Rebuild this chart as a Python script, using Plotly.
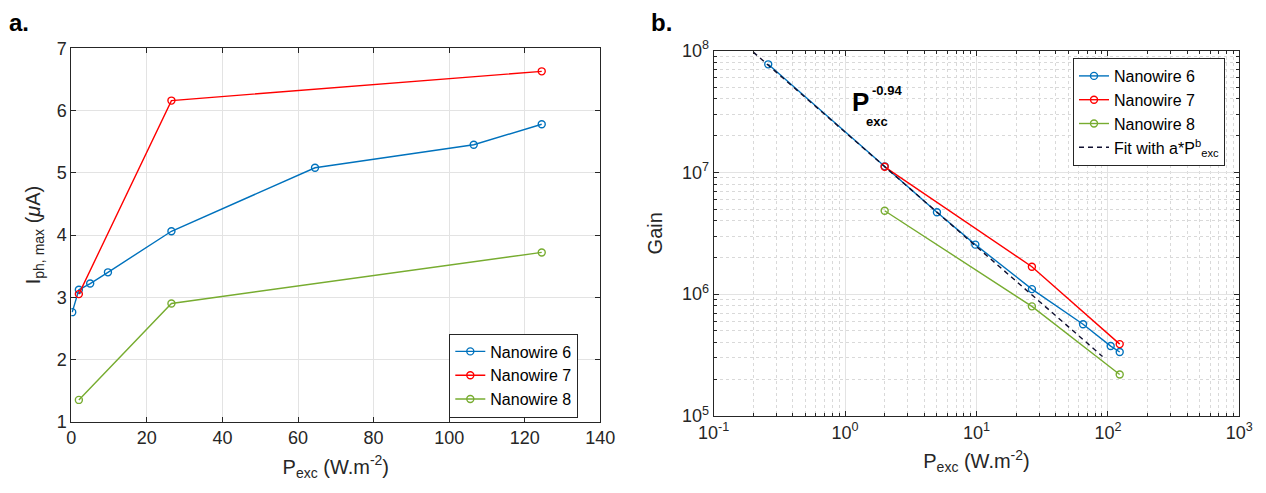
import plotly.graph_objects as go

# ---------------- data ----------------
# panel a (linear)
p6 = [0.25, 2, 5, 9.7, 26.5, 64.5, 106.5, 124.5]
i6 = [2.76, 3.12, 3.22, 3.40, 4.06, 5.08, 5.45, 5.78]
p7 = [2, 26.5, 124.5]
i7 = [3.05, 6.16, 6.63]
p8 = [2, 26.5, 124.5]
i8 = [1.35, 2.90, 3.72]

# panel b (log-log)
g6_x = [0.26, 2, 5, 9.8, 26.4, 64.7, 105, 123]
g6_y = [7.7e7, 1.12e7, 4.7e6, 2.55e6, 1.1e6, 5.66e5, 3.75e5, 3.35e5]
g7_x = [2, 26.4, 123]
g7_y = [1.11e7, 1.68e6, 3.89e5]
g8_x = [2, 26.4, 123]
g8_y = [4.84e6, 7.94e5, 2.19e5]
fit_x = [0.2, 91]
fit_y = [9.7e7, 3.08e5]

names = ["Nanowire 6", "Nanowire 7", "Nanowire 8"]
colors = ["#0072BD", "#FF0000", "#77AC30"]

# page body has an 8px default margin: figure occupies window pixels 8..1258 x 8..485
OFF = 8
W, H = 1250, 477
def px(x): return (x - OFF) / W
def py(y): return 1 - (y - OFF) / H

FONT = "Liberation Sans, Arial, sans-serif"
AX = "#262626"
GRID = "#e3e3e3"

fig = go.Figure()

for (xs, ys), n, c in zip([(p6, i6), (p7, i7), (p8, i8)], names, colors):
    fig.add_trace(go.Scatter(
        x=xs, y=ys, name=n, mode="lines+markers",
        line=dict(color=c, width=1.4),
        marker=dict(symbol="circle-open", size=7, color=c, line=dict(width=1.4)),
        xaxis="x", yaxis="y", legend="legend"))

for (xs, ys), n, c in zip([(g6_x, g6_y), (g7_x, g7_y), (g8_x, g8_y)], names, colors):
    fig.add_trace(go.Scatter(
        x=xs, y=ys, name=n, mode="lines+markers",
        line=dict(color=c, width=1.4),
        marker=dict(symbol="circle-open", size=7, color=c, line=dict(width=1.4)),
        xaxis="x2", yaxis="y2", legend="legend2"))

fig.add_trace(go.Scatter(
    x=fit_x, y=fit_y, name="Fit with a*P<sup>b</sup><sub>exc</sub>", mode="lines",
    line=dict(color="#101030", width=1.4, dash="5px,4px"),
    xaxis="x2", yaxis="y2", legend="legend2"))

axcommon = dict(showline=True, linecolor=AX, linewidth=1, mirror="allticks",
                ticks="inside", ticklen=5, tickcolor=AX, automargin=False,
                showgrid=True, gridcolor=GRID, gridwidth=1, zeroline=False,
                tickfont=dict(family=FONT, size=18, color=AX))

decades = [0.1, 1, 10, 100]
minor_x = [d * k for d in decades for k in range(2, 10)]
minor_y = [d * k for d in [1e5, 1e6, 1e7] for k in range(2, 10)]
minor_common = dict(tickmode="array", ticks="inside", ticklen=3, tickcolor=AX,
                    showgrid=True, gridcolor="#d9d9d9", griddash="dot", gridwidth=1)

TFONT = dict(family=FONT, size=20, color=AX)

fig.update_layout(
    width=W, height=H,
    margin=dict(l=0, r=0, t=0, b=0),
    paper_bgcolor="white", plot_bgcolor="white",
    showlegend=True,
    xaxis=dict(domain=[px(71.3), px(600.3)], anchor="y", range=[0, 140],
               tickvals=[0, 20, 40, 60, 80, 100, 120, 140],
               title=dict(text="P<sub>exc</sub> (W.m<sup>-2</sup>)", standoff=12, font=TFONT),
               **axcommon),
    yaxis=dict(domain=[py(421.7), py(48.3)], anchor="x", range=[1, 7],
               tickvals=[1, 2, 3, 4, 5, 6, 7],
               title=dict(text="I<sub>ph, max</sub> (<i>μ</i>A)", standoff=10, font=TFONT),
               **axcommon),
    xaxis2=dict(domain=[px(713.7), px(1239.3)], anchor="y2", type="log", range=[-1, 3],
                tickvals=[0.1, 1, 10, 100, 1000],
                ticktext=["10<sup>-1</sup>", "10<sup>0</sup>", "10<sup>1</sup>",
                          "10<sup>2</sup>", "10<sup>3</sup>"],
                minor=dict(tickvals=minor_x, **minor_common),
                title=dict(text="P<sub>exc</sub> (W.m<sup>-2</sup>)", standoff=12, font=TFONT),
                **axcommon),
    yaxis2=dict(domain=[py(416), py(50.5)], anchor="x2", type="log", range=[5, 8],
                tickvals=[1e5, 1e6, 1e7, 1e8],
                ticktext=["10<sup>5</sup>", "10<sup>6</sup>", "10<sup>7</sup>", "10<sup>8</sup>"],
                minor=dict(tickvals=minor_y, **minor_common),
                title=dict(text="Gain", standoff=14, font=TFONT),
                **axcommon),
    legend=dict(x=px(578.3), xanchor="right", y=py(375.5), yanchor="middle",
                bgcolor="white", bordercolor=AX, borderwidth=1,
                font=dict(family=FONT, size=16, color="black"),
                itemwidth=30, tracegroupgap=0),
    legend2=dict(x=px(1225), xanchor="right", y=py(112), yanchor="middle",
                 bgcolor="white", bordercolor=AX, borderwidth=1,
                 font=dict(family=FONT, size=16, color="black"),
                 itemwidth=30, tracegroupgap=0),
)

ann = [
    dict(text="<b>a.</b>", x=px(8), y=py(8), size=24, anchor="top"),
    dict(text="<b>b.</b>", x=px(650), y=py(8), size=24, anchor="top"),
    dict(text="<b>P</b>", x=px(851), y=py(102), size=26, anchor="middle"),
    dict(text="<b>exc</b>", x=px(865), y=py(121), size=13, anchor="middle"),
    dict(text="<b>-0.94</b>", x=px(871), y=py(90), size=13, anchor="middle"),
]
for a in ann:
    fig.add_annotation(text=a["text"], x=a["x"], y=a["y"], xref="paper", yref="paper",
                       xanchor="left", yanchor=a["anchor"], showarrow=False, borderpad=0,
                       font=dict(family=FONT, color="black", size=a["size"]))

fig.write_html("out.html")
